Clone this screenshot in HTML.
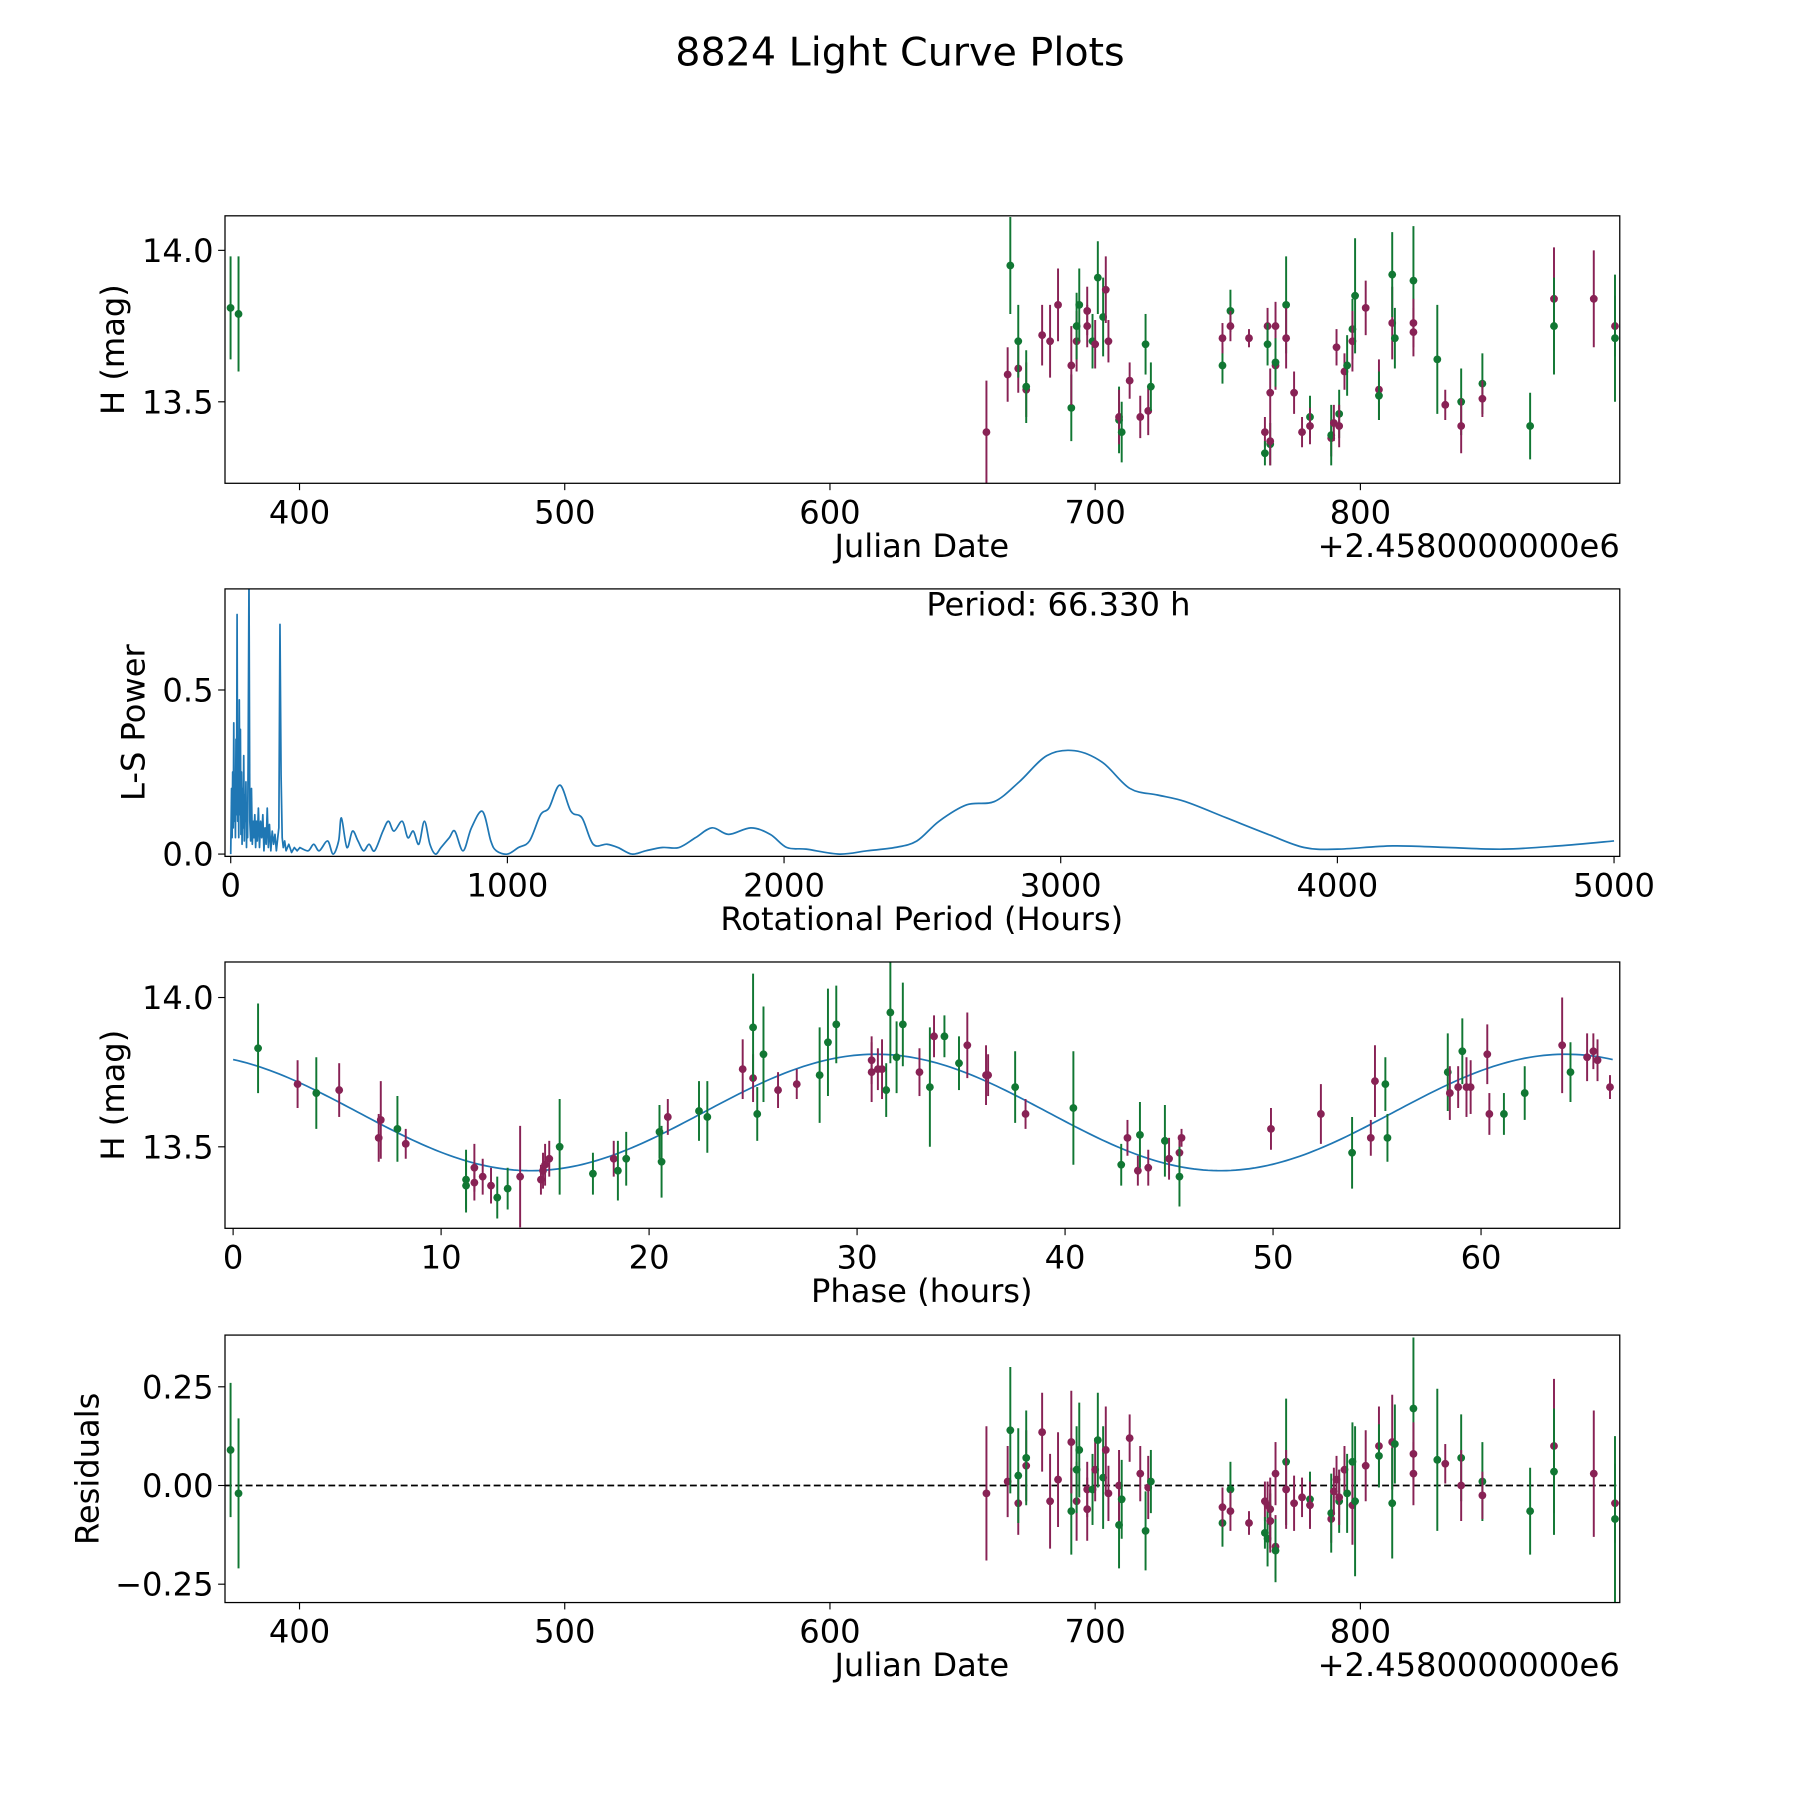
<!DOCTYPE html>
<html><head><meta charset="utf-8"><style>
html,body{margin:0;padding:0;background:#fff;}
svg{display:block;font-family:"DejaVu Sans","Liberation Sans",sans-serif;}
</style></head><body>
<svg id="fig" width="1800" height="1800" viewBox="0 0 1568 1568" xmlns="http://www.w3.org/2000/svg">
<rect width="1568" height="1568" fill="#fff"/>
<text x="784" y="57" font-size="34.5" text-anchor="middle">8824 Light Curve Plots</text>
</svg>
<script>
// ---- Panel 1 & 4 data (Julian date offset, color, magnitude, error, residual)
const dates=[374,377,659,667,668,671,671,674,674,680,683,686,691,691,693,693,694,697,697,699,700,701,703,704,705,709,709,710,713,717,719,720,721,748,748,751,751,758,764,764,765,765,766,766,766,768,768,768,772,772,775,778,781,781,789,789,790,791,792,792,794,795,797,797,798,802,807,807,812,812,813,820,820,820,829,832,838,838,846,846,864,873,873,888,896,896];
const colors=['g','g','p','p','g','p','g','p','g','p','p','p','g','p','p','g','g','p','p','g','p','g','g','p','p','g','p','g','p','p','g','p','g','g','p','g','p','p','p','g','p','g','p','g','p','p','p','g','g','p','p','p','g','p','p','g','p','p','g','p','p','g','g','p','g','p','p','g','p','g','g','g','p','p','g','p','g','p','g','p','g','p','g','p','p','g'];
const mags=[13.81,13.79,13.40,13.59,13.95,13.61,13.70,13.54,13.55,13.72,13.70,13.82,13.48,13.62,13.70,13.75,13.82,13.75,13.80,13.70,13.69,13.91,13.78,13.87,13.70,13.44,13.45,13.40,13.57,13.45,13.69,13.47,13.55,13.62,13.71,13.80,13.75,13.71,13.40,13.33,13.75,13.69,13.53,13.36,13.37,13.75,13.62,13.63,13.82,13.71,13.53,13.40,13.45,13.42,13.38,13.39,13.43,13.68,13.46,13.42,13.60,13.62,13.74,13.70,13.85,13.81,13.54,13.52,13.76,13.92,13.71,13.90,13.73,13.76,13.64,13.49,13.50,13.42,13.56,13.51,13.42,13.84,13.75,13.84,13.75,13.71];
const errs=[.17,.19,.17,.09,.16,.08,.12,.09,.12,.10,.12,.12,.11,.13,.10,.11,.12,.07,.08,.09,.08,.12,.13,.11,.07,.11,.09,.10,.06,.07,.10,.08,.08,.06,.05,.07,.05,.03,.05,.04,.06,.07,.08,.07,.08,.08,.08,.08,.16,.10,.07,.05,.07,.06,.06,.10,.06,.06,.08,.07,.06,.10,.10,.10,.19,.09,.10,.08,.12,.14,.10,.18,.08,.08,.18,.05,.11,.09,.10,.06,.11,.17,.16,.16,.10,.21];
const resid=[0.09,-0.02,-0.02,0.01,0.14,-0.045,0.025,0.05,0.07,0.135,-0.04,0.015,-0.065,0.11,-0.04,0.04,0.09,-0.01,-0.06,-0.01,0.04,0.115,0.02,0.09,-0.02,-0.10,0.0,-0.035,0.12,0.03,-0.115,-0.005,0.01,-0.095,-0.055,-0.01,-0.065,-0.095,-0.04,-0.12,-0.05,-0.135,-0.06,-0.09,-0.09,0.03,-0.155,-0.165,0.06,-0.01,-0.045,-0.03,-0.035,-0.05,-0.085,-0.07,-0.015,0.015,-0.04,-0.03,0.04,-0.02,0.06,-0.05,-0.04,0.05,0.10,0.075,0.11,-0.045,0.105,0.195,0.03,0.08,0.065,0.055,0.07,0.0,0.01,-0.025,-0.065,0.10,0.035,0.03,-0.045,-0.085];
// ---- Panel 2 periodogram: dense spiky region (linear) + smooth region (spline)
const spikePeriods=[0,3,5,7,9,11,13,15,17,19,21,23,25,27,29,31,33,35,37,39,41,43,45,47,49,51,53,55,57,59,61,63,66,69,72,75,78,81,84,87,90,93,96,100,104,108,112,116,120,124,128,132,136,140,145,150,155,160,165,170,174,178,182,186,190,195,200,210,220,230,240,250];
const spikePower=[0,0.2,0.05,0.25,0.08,0.4,0.1,0.2,0.05,0.35,0.12,0.73,0.1,0.3,0.05,0.47,0.12,0.38,0.06,0.25,0.03,0.2,0.08,0.3,0.04,0.18,0.1,0.22,0.02,0.15,0.05,0.3,0.85,0.1,0.04,0.2,0.03,0.1,0.05,0.12,0.02,0.1,0.04,0.14,0.02,0.1,0.05,0.12,0.01,0.08,0.03,0.14,0.02,0.09,0.01,0.07,0.03,0.06,0.01,0.05,0.08,0.70,0.24,0.05,0.02,0.04,0.01,0.03,0.005,0.02,0.01,0.02];
const lsPeriods=[250,280,300,320,350,370,390,400,420,440,460,480,500,520,550,570,590,620,640,660,680,700,720,740,760,790,810,840,870,910,940,960,1000,1040,1080,1120,1150,1190,1230,1270,1310,1360,1400,1450,1500,1560,1620,1680,1740,1800,1880,1950,2010,2080,2200,2300,2400,2480,2560,2660,2760,2850,2950,3050,3150,3250,3350,3450,3600,3750,3880,4000,4200,4400,4600,4800,5000];
const lsPower=[0.02,0.01,0.03,0.01,0.04,0.0,0.04,0.11,0.02,0.07,0.04,0.01,0.03,0.01,0.07,0.1,0.07,0.1,0.05,0.07,0.03,0.1,0.03,0.0,0.02,0.05,0.07,0.01,0.08,0.13,0.04,0.01,0.0,0.02,0.04,0.12,0.14,0.21,0.13,0.11,0.03,0.03,0.02,0.0,0.01,0.02,0.02,0.05,0.08,0.06,0.08,0.06,0.02,0.015,0.0,0.01,0.02,0.04,0.1,0.15,0.16,0.22,0.3,0.315,0.28,0.2,0.18,0.16,0.11,0.06,0.02,0.015,0.025,0.02,0.015,0.025,0.04];
// ---- Panel 3 phased data
const phases=[1.2,3.1,4.0,5.1,7.0,7.1,7.9,8.3,11.2,11.2,11.6,11.6,12.0,12.4,12.7,13.2,13.8,14.8,14.9,15.0,15.2,15.7,17.3,18.3,18.5,18.9,20.5,20.6,20.9,22.4,22.8,24.5,25.0,25.0,25.2,25.5,26.2,27.1,28.2,28.6,29.0,30.7,30.7,31.0,31.2,31.4,31.6,31.9,32.2,33.0,33.5,33.7,34.2,34.9,35.3,36.2,36.3,37.6,38.1,40.4,42.7,43.0,43.5,43.6,44.0,44.8,45.0,45.5,45.6,45.5,49.9,52.3,53.8,54.7,54.9,55.4,55.5,58.4,58.5,58.9,59.1,59.3,59.5,60.3,60.4,61.1,62.1,63.9,64.3,65.1,65.4,65.6,66.2];
const phColors=['g','p','g','p','p','p','g','p','g','g','p','p','p','p','g','g','p','p','p','p','p','g','g','p','g','g','g','g','p','g','g','p','p','g','g','g','p','p','g','g','g','p','p','p','p','g','g','g','g','p','g','p','g','g','p','p','p','g','p','g','g','p','p','g','p','g','p','p','p','g','p','p','g','p','p','g','g','g','p','p','g','p','p','p','p','g','g','p','g','p','p','p','p'];
const phMags=[13.83,13.71,13.68,13.69,13.53,13.59,13.56,13.51,13.39,13.37,13.43,13.38,13.40,13.37,13.33,13.36,13.40,13.39,13.42,13.44,13.46,13.50,13.41,13.46,13.42,13.46,13.55,13.45,13.60,13.62,13.60,13.76,13.73,13.90,13.61,13.81,13.69,13.71,13.74,13.85,13.91,13.79,13.75,13.76,13.76,13.69,13.95,13.80,13.91,13.75,13.70,13.87,13.87,13.78,13.84,13.74,13.74,13.70,13.61,13.63,13.44,13.53,13.42,13.54,13.43,13.52,13.46,13.48,13.53,13.40,13.56,13.61,13.48,13.53,13.72,13.71,13.53,13.75,13.68,13.70,13.82,13.70,13.70,13.81,13.61,13.61,13.68,13.84,13.75,13.80,13.82,13.79,13.70];
const phErrs=[.15,.08,.12,.09,.08,.13,.11,.05,.10,.09,.08,.06,.06,.06,.07,.07,.17,.05,.06,.07,.06,.16,.07,.06,.10,.09,.09,.12,.06,.10,.12,.10,.08,.18,.09,.16,.06,.05,.16,.18,.13,.08,.10,.07,.10,.09,.17,.12,.14,.08,.20,.07,.07,.09,.11,.10,.07,.12,.05,.19,.07,.06,.05,.11,.06,.12,.07,.06,.03,.10,.07,.10,.12,.06,.12,.09,.08,.13,.09,.07,.11,.10,.09,.10,.07,.07,.09,.16,.10,.08,.06,.07,.04];
// fit model parameters: mean, amplitude, phase of max, period
const fitParams=[13.615,0.195,30.9,66.33];
const xt1=[400,500,600,700,800], yt1=[14.0,13.5];
const xt2=[0,1000,2000,3000,4000,5000], yt2=[0.0,0.5];
const xt3=[0,10,20,30,40,50,60], yt3=[14.0,13.5];
const yt4=[0.25,0.0,-0.25];

const NS='http://www.w3.org/2000/svg';
const svg=document.getElementById('fig');
const COL={g:'#117733',p:'#882255'};
const FS=28;
function el(tag,attrs,parent,txt){const e=document.createElementNS(NS,tag);for(const k in attrs)e.setAttribute(k,attrs[k]);if(txt!==undefined)e.textContent=txt;(parent||svg).appendChild(e);return e;}
const L=196,R=1411;
function panel(name,top,bot,xmin,xmax,ymin,ymax){
  const g=el('g',{},svg);
  
  
  const sx=v=>L+(v-xmin)/(xmax-xmin)*(R-L);
  const sy=v=>bot-(v-ymin)/(ymax-ymin)*(bot-top);
  const cid=name+'-clip';
  const cp=el('clipPath',{id:cid},g);el('rect',{x:L,y:top,width:R-L,height:bot-top},cp);
  const plot=el('g',{'clip-path':'url(#'+cid+')'},g);
  return {g,plot,sx,sy,top,bot};
}
function frame(P){const r=el('rect',{x:L,y:P.top,width:R-L,height:P.bot-P.top,fill:'none',stroke:'#000','stroke-width':1.1},P.g);}
function xticks(P,ticks,fmt){for(const t of ticks){const x=P.sx(t);el('line',{x1:x,x2:x,y1:P.bot,y2:P.bot+6,stroke:'#000','stroke-width':1},P.g);const tx=el('text',{x:x,y:P.bot+35,'font-size':FS,'text-anchor':'middle'},P.g,fmt(t));}}
function yticks(P,ticks,fmt){for(const t of ticks){const y=P.sy(t);el('line',{x1:L,x2:L-6,y1:y,y2:y,stroke:'#000','stroke-width':1},P.g);const tx=el('text',{x:L-10,y:y+10,'font-size':FS,'text-anchor':'end'},P.g,fmt(t));}}
function xlabel(P,txt){const t=el('text',{x:803,y:P.bot+64,'font-size':FS,'text-anchor':'middle'},P.g,txt);}
function ylabel(P,txt,x){const cy=(P.top+P.bot)/2;const t=el('text',{x:x,y:cy,'font-size':FS,'text-anchor':'middle',transform:'rotate(-90 '+x+' '+cy+')'},P.g,txt);}
function offset(P){const t=el('text',{x:R,y:P.bot+64,'font-size':FS,'text-anchor':'end'},P.g,'+2.4580000000e6');}
function pts(P,xs,ys,es,cs){for(let i=0;i<xs.length;i++){const x=P.sx(xs[i]),y=P.sy(ys[i]);const c=COL[cs[i]];
  const ln=el('line',{x1:x,x2:x,y1:P.sy(ys[i]-es[i]),y2:P.sy(ys[i]+es[i]),stroke:c,'stroke-width':1.7},P.plot);
  
  const d=el('circle',{cx:x,cy:y,r:3.4,fill:c},P.plot);
  }}
const f1=v=>v.toFixed(1), f0=v=>String(v), f2=v=>(v<0?'\u2212':'')+Math.abs(v).toFixed(2);

// Panel 1
const P1=panel('light-curve-panel',188,421,371.9,897.8,13.231,14.114);
pts(P1,dates,mags,errs,colors);frame(P1);xticks(P1,xt1,f0);yticks(P1,yt1,f1);xlabel(P1,'Julian Date');offset(P1);ylabel(P1,'H (mag)',108);

// Panel 2
const P2=panel('periodogram-panel',513,746,-20.7,5020.7,-0.007,0.808);
let d='';for(let i=0;i<spikePeriods.length;i++){d+=(i?'L':'M')+P2.sx(spikePeriods[i]).toFixed(2)+' '+P2.sy(spikePower[i]).toFixed(2);}
const px=lsPeriods.map(P2.sx), py=lsPower.map(P2.sy);
d+='L'+px[0].toFixed(2)+' '+py[0].toFixed(2);
for(let i=0;i<px.length-1;i++){const i0=Math.max(0,i-1),i3=Math.min(px.length-1,i+2);
  const c1x=px[i]+(px[i+1]-px[i0])/6,c1y=py[i]+(py[i+1]-py[i0])/6;
  const c2x=px[i+1]-(px[i3]-px[i])/6,c2y=py[i+1]-(py[i3]-py[i])/6;
  d+='C'+c1x.toFixed(2)+' '+c1y.toFixed(2)+' '+c2x.toFixed(2)+' '+c2y.toFixed(2)+' '+px[i+1].toFixed(2)+' '+py[i+1].toFixed(2);}
const ls=el('path',{d:d,fill:'none',stroke:'#1f77b4','stroke-width':1.5,'stroke-linejoin':'round'},P2.plot);

frame(P2);xticks(P2,xt2,f0);yticks(P2,yt2,f1);xlabel(P2,'Rotational Period (Hours)');ylabel(P2,'L-S Power',126);
const pt=el('text',{x:922,y:536,'font-size':FS,'text-anchor':'middle'},P2.g,'Period: 66.330 h');


// Panel 3
const P3=panel('phased-curve-panel',838,1070,-0.39,66.67,13.227,14.119);
let dm='';for(let i=0;i<=300;i++){const x=fitParams[3]*i/300;const y=fitParams[0]+fitParams[1]*Math.cos(4*Math.PI*(x-fitParams[2])/fitParams[3]);dm+=(i?'L':'M')+P3.sx(x).toFixed(2)+' '+P3.sy(y).toFixed(2);}
const fl=el('path',{d:dm,fill:'none',stroke:'#1f77b4','stroke-width':1.5},P3.plot);

pts(P3,phases,phMags,phErrs,phColors);frame(P3);xticks(P3,xt3,f0);yticks(P3,yt3,f1);xlabel(P3,'Phase (hours)');ylabel(P3,'H (mag)',108);

// Panel 4
const P4=panel('residuals-panel',1163,1396,371.9,897.8,-0.2965,0.381);
const zl=el('line',{x1:L,x2:R,y1:P4.sy(0),y2:P4.sy(0),stroke:'#000','stroke-width':1.5,'stroke-dasharray':'6,3'},P4.plot);

pts(P4,dates,resid,errs,colors);frame(P4);xticks(P4,xt1,f0);yticks(P4,yt4,f2);xlabel(P4,'Julian Date');offset(P4);ylabel(P4,'Residuals',86);
</script>
</body></html>
